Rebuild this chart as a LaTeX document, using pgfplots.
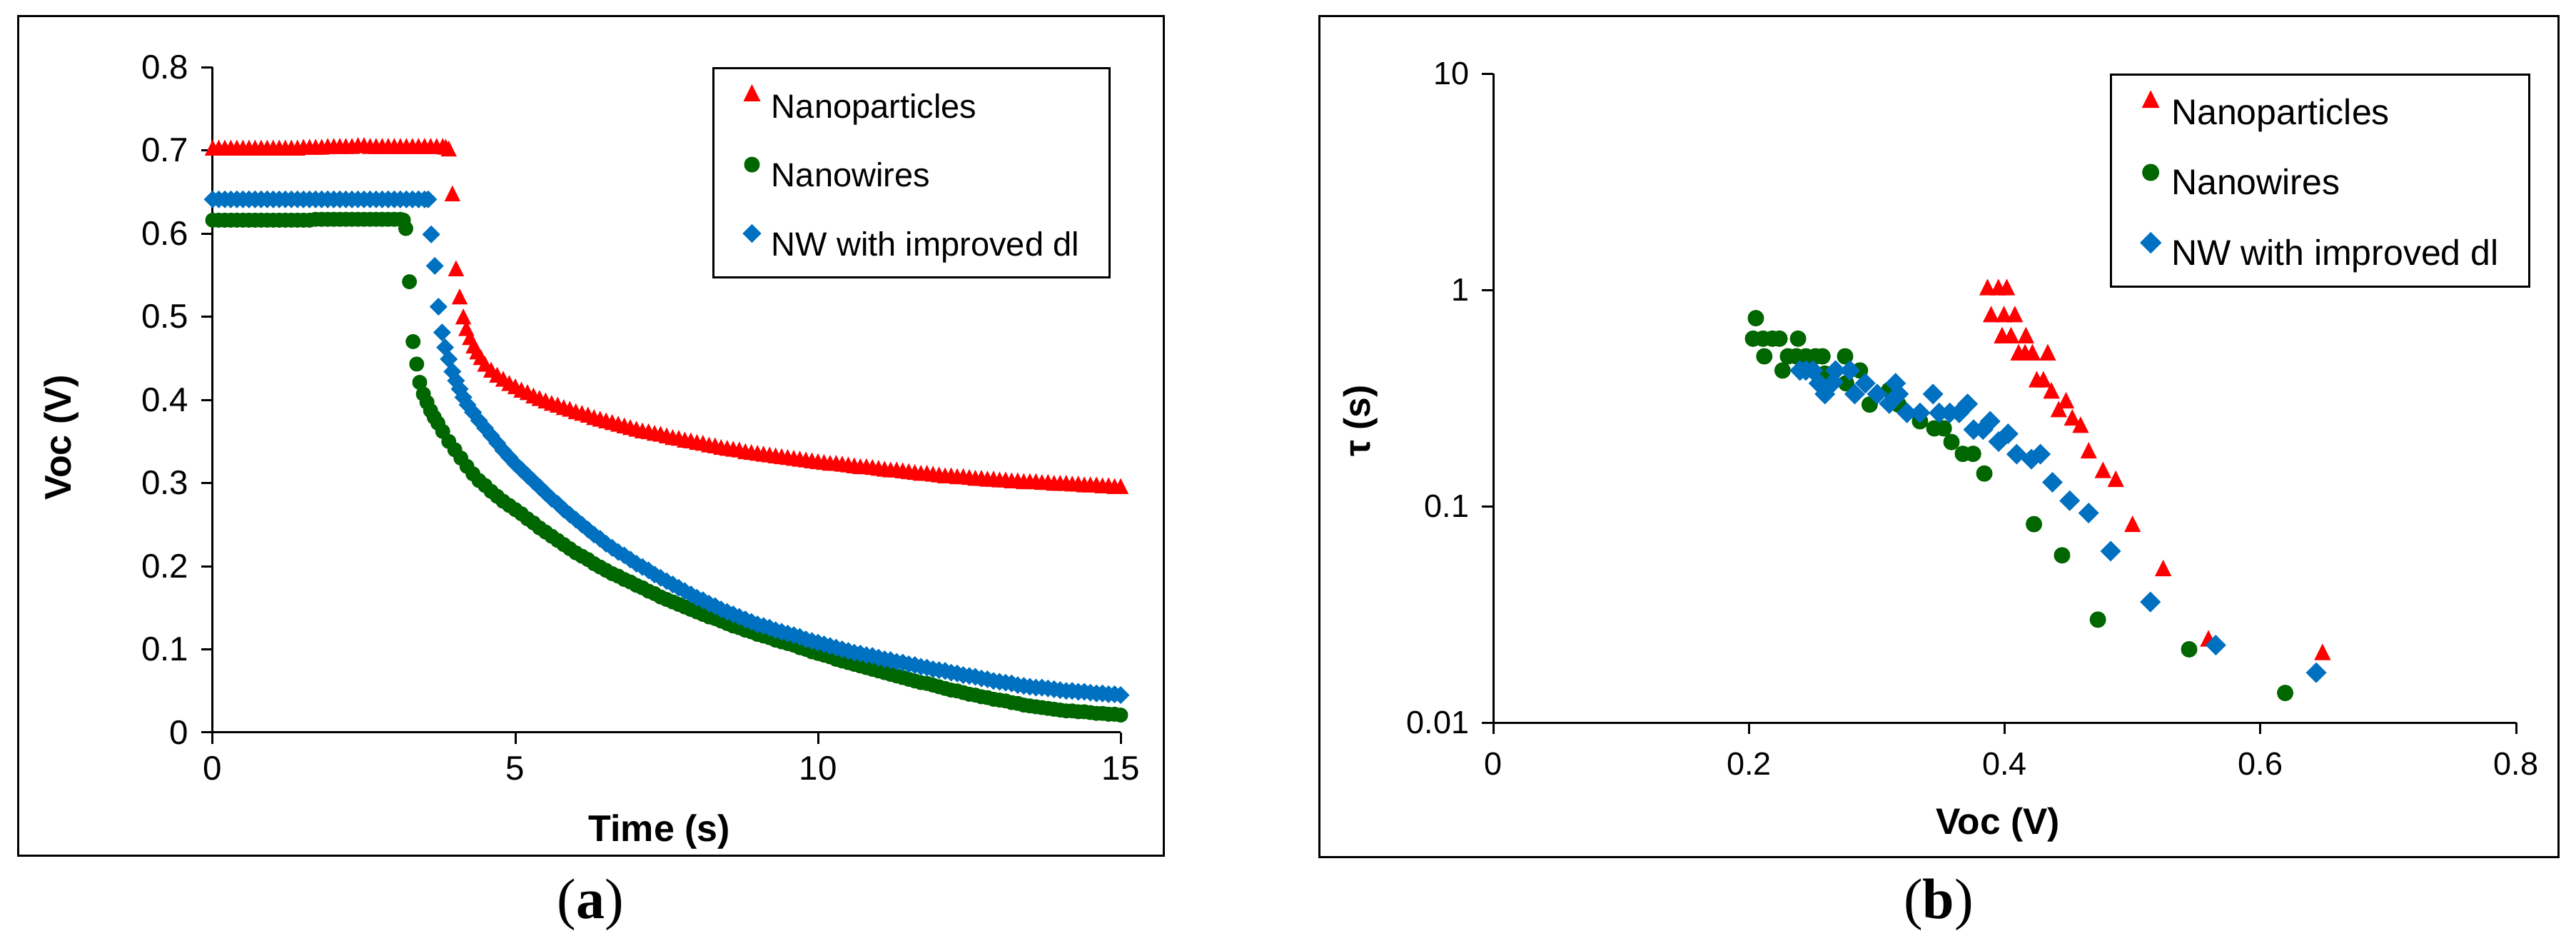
\documentclass[border=0pt]{standalone}
\usepackage{pgfplots}
\pgfplotsset{compat=1.18}
\usepackage{fontspec}
\setmainfont{Liberation Sans}
\newfontfamily\capserif{Liberation Serif}
\definecolor{npred}{RGB}{255,0,0}
\definecolor{nwgreen}{RGB}{0,102,0}
\definecolor{nwblue}{RGB}{0,112,192}
\pgfplotsset{
 panel/.style={
  scale only axis,
  axis lines*=left,
  axis line style={line width=0.6pt},
  tick style={line width=0.6pt, black},
  major tick length=3.2pt,
  tick align=outside,
  clip=false,
  /pgf/number format/assume math mode=true,
  legend cell align=left,
  legend image code/.code={
    \path[draw=none, fill=none] (-2.3pt,0pt) rectangle (2.3pt,6.8pt);
    \draw[##1] plot coordinates {(0pt,3.4pt)};
  },
  legend style={draw=black, line width=0.6pt, inner xsep=8.5pt, inner ysep=4.3pt,
    row sep=8pt, column sep=3.2pt,
    nodes={inner sep=0pt, text height=7.3pt, text depth=1.7pt}},
 },
 npstyle/.style={only marks, mark=triangle*, color=npred, mark size=#1,
   mark options={draw=none, fill=npred, yscale=1.15}},
 nwstyle/.style={only marks, mark=*, color=nwgreen, mark size=#1,
   mark options={draw=none, fill=nwgreen}},
 dlstyle/.style={only marks, mark=square*, color=nwblue, mark size=#1,
   mark options={draw=none, fill=nwblue, rotate=45}},
}
\begin{document}
\begin{tikzpicture}
\path[use as bounding box] (0,0) rectangle (721.8pt,264.8pt);
\draw[line width=0.6pt] (5pt,25.2pt) rectangle (326pt,260.2pt);
\draw[line width=0.6pt] (369.6pt,24.8pt) rectangle (716.8pt,260.2pt);
\node[font=\capserif\fontsize{16}{18}\selectfont] at (165.4pt,11.4pt) {(\textbf{a})};
\node[font=\capserif\fontsize{16}{18}\selectfont] at (543.2pt,11.4pt) {(\textbf{b})};

% ---------------- panel (a) ----------------
\begin{axis}[panel,
  at={(59.6pt,59.6pt)}, anchor=south west,
  width=254.4pt, height=186.4pt,
  xmin=0, xmax=15, ymin=0, ymax=0.8,
  xtick={0,5,10,15}, ytick={0,0.1,0.2,0.3,0.4,0.5,0.6,0.7,0.8},
  tick label style={font=\fontsize{9.5}{11}\selectfont},
  xlabel={Time (s)}, ylabel={Voc (V)},
  every axis x label/.style={at={(axis description cs:0.492,0)}, yshift=-27.8pt, anchor=center, font=\bfseries\fontsize{10.4}{12}\selectfont},
  every axis y label/.style={at={(axis description cs:0,0.443)}, xshift=-42.4pt, rotate=90, anchor=center, font=\bfseries\fontsize{10.4}{12}\selectfont},
  legend style={at={(0.5503,1)}, anchor=north west, font=\fontsize{9.4}{11}\selectfont},
]
\addplot[npstyle=2.2pt] coordinates {
(0,0.700)(0.1,0.700)(0.2,0.700)(0.3,0.700)(0.4,0.700)(0.5,0.700)(0.6,0.700)(0.7,0.700)(0.8,0.700)(0.9,0.700)
(1.0,0.700)(1.1,0.700)(1.2,0.700)(1.3,0.700)(1.4,0.700)(1.5,0.701)(1.6,0.701)(1.7,0.701)(1.8,0.701)(1.9,0.702)
(2.0,0.702)(2.1,0.702)(2.2,0.702)(2.3,0.702)(2.4,0.703)(2.5,0.703)(2.6,0.702)(2.7,0.702)(2.8,0.702)(2.9,0.702)
(3.0,0.702)(3.1,0.702)(3.2,0.702)(3.3,0.702)(3.4,0.702)(3.5,0.702)(3.6,0.702)(3.7,0.702)(3.8,0.702)(3.85,0.701)
(3.90,0.699)(3.96,0.645)(4.02,0.555)(4.08,0.521)(4.14,0.497)(4.19,0.483)(4.25,0.472)(4.31,0.462)(4.37,0.455)(4.43,0.448)
(4.5,0.440)(4.6,0.433)(4.7,0.427)(4.8,0.422)(4.9,0.417)(5.0,0.413)(5.1,0.409)(5.2,0.406)(5.3,0.402)(5.4,0.399)
(5.5,0.396)(5.6,0.393)(5.7,0.391)(5.8,0.388)(5.9,0.386)(6.0,0.383)(6.1,0.381)(6.2,0.379)(6.3,0.376)(6.4,0.374)
(6.5,0.372)(6.6,0.370)(6.7,0.368)(6.8,0.366)(6.9,0.364)(7.0,0.362)(7.1,0.360)(7.2,0.359)(7.3,0.357)(7.4,0.356)
(7.5,0.354)(7.6,0.352)(7.7,0.351)(7.8,0.349)(7.9,0.348)(8.0,0.346)(8.1,0.345)(8.2,0.343)(8.3,0.342)(8.4,0.340)
(8.5,0.339)(8.6,0.338)(8.7,0.337)(8.8,0.335)(8.9,0.334)(9.0,0.333)(9.1,0.332)(9.2,0.331)(9.3,0.330)(9.4,0.329)
(9.5,0.328)(9.6,0.327)(9.7,0.326)(9.8,0.325)(9.9,0.324)(10.0,0.323)(10.1,0.322)(10.2,0.321)(10.3,0.321)(10.4,0.320)
(10.5,0.319)(10.6,0.318)(10.7,0.317)(10.8,0.317)(10.9,0.316)(11.0,0.315)(11.1,0.314)(11.2,0.313)(11.3,0.313)(11.4,0.312)
(11.5,0.311)(11.6,0.310)(11.7,0.309)(11.8,0.309)(11.9,0.308)(12.0,0.307)(12.1,0.306)(12.2,0.306)(12.3,0.305)(12.4,0.305)
(12.5,0.304)(12.6,0.303)(12.7,0.303)(12.8,0.302)(12.9,0.302)(13.0,0.301)(13.1,0.301)(13.2,0.300)(13.3,0.300)(13.4,0.299)
(13.5,0.299)(13.6,0.299)(13.7,0.298)(13.8,0.298)(13.9,0.297)(14.0,0.297)(14.1,0.297)(14.2,0.296)(14.3,0.296)(14.4,0.295)
(14.5,0.295)(14.6,0.295)(14.7,0.294)(14.8,0.294)(14.9,0.293)(15.0,0.293)
};
\addplot[nwstyle=1.9pt] coordinates {
(0,0.616)(0.1,0.616)(0.2,0.616)(0.3,0.616)(0.4,0.616)(0.5,0.616)(0.6,0.616)(0.7,0.616)(0.8,0.616)(0.9,0.616)
(1.0,0.616)(1.1,0.616)(1.2,0.616)(1.3,0.616)(1.4,0.616)(1.5,0.616)(1.6,0.616)(1.7,0.617)(1.8,0.617)(1.9,0.617)
(2.0,0.617)(2.1,0.617)(2.2,0.617)(2.3,0.617)(2.4,0.617)(2.5,0.617)(2.6,0.617)(2.7,0.617)(2.8,0.617)(2.9,0.617)
(3.0,0.617)(3.1,0.617)(3.15,0.616)(3.19,0.606)(3.25,0.542)(3.31,0.470)(3.37,0.443)(3.42,0.421)(3.48,0.407)(3.54,0.397)
(3.60,0.387)(3.66,0.379)(3.72,0.372)(3.8,0.362)(3.9,0.350)(4.0,0.340)(4.1,0.330)(4.2,0.320)(4.3,0.311)(4.4,0.303)
(4.5,0.297)(4.6,0.290)(4.7,0.284)(4.8,0.278)(4.9,0.273)(5.0,0.268)(5.1,0.263)(5.2,0.257)(5.3,0.252)(5.4,0.246)
(5.5,0.241)(5.6,0.236)(5.7,0.231)(5.8,0.226)(5.9,0.221)(6.0,0.216)(6.1,0.212)(6.2,0.208)(6.3,0.203)(6.4,0.199)
(6.5,0.195)(6.6,0.191)(6.7,0.188)(6.8,0.184)(6.9,0.181)(7.0,0.177)(7.1,0.174)(7.2,0.170)(7.3,0.167)(7.4,0.163)
(7.5,0.160)(7.6,0.157)(7.7,0.154)(7.8,0.151)(7.9,0.148)(8.0,0.145)(8.1,0.142)(8.2,0.139)(8.3,0.137)(8.4,0.134)
(8.5,0.131)(8.6,0.128)(8.7,0.126)(8.8,0.123)(8.9,0.121)(9.0,0.118)(9.1,0.116)(9.2,0.114)(9.3,0.111)(9.4,0.109)
(9.5,0.107)(9.6,0.105)(9.7,0.102)(9.8,0.100)(9.9,0.097)(10.0,0.095)(10.1,0.093)(10.2,0.091)(10.3,0.088)(10.4,0.086)
(10.5,0.084)(10.6,0.082)(10.7,0.080)(10.8,0.078)(10.9,0.076)(11.0,0.074)(11.1,0.072)(11.2,0.070)(11.3,0.068)(11.4,0.066)
(11.5,0.064)(11.6,0.062)(11.7,0.060)(11.8,0.059)(11.9,0.057)(12.0,0.055)(12.1,0.053)(12.2,0.051)(12.3,0.050)(12.4,0.048)
(12.5,0.046)(12.6,0.045)(12.7,0.043)(12.8,0.042)(12.9,0.040)(13.0,0.039)(13.1,0.038)(13.2,0.036)(13.3,0.035)(13.4,0.033)
(13.5,0.032)(13.6,0.031)(13.7,0.030)(13.8,0.029)(13.9,0.028)(14.0,0.027)(14.1,0.026)(14.2,0.026)(14.3,0.025)(14.4,0.025)
(14.5,0.024)(14.6,0.023)(14.7,0.023)(14.8,0.022)(14.9,0.022)(15.0,0.021)
};
\addplot[dlstyle=1.56pt] coordinates {
(0,0.641)(0.1,0.641)(0.2,0.641)(0.3,0.641)(0.4,0.641)(0.5,0.641)(0.6,0.641)(0.7,0.641)(0.8,0.641)(0.9,0.641)
(1.0,0.641)(1.1,0.641)(1.2,0.641)(1.3,0.641)(1.4,0.641)(1.5,0.641)(1.6,0.641)(1.7,0.641)(1.8,0.641)(1.9,0.641)
(2.0,0.641)(2.1,0.641)(2.2,0.641)(2.3,0.641)(2.4,0.641)(2.5,0.641)(2.6,0.641)(2.7,0.641)(2.8,0.641)(2.9,0.641)
(3.0,0.641)(3.1,0.641)(3.2,0.641)(3.3,0.641)(3.4,0.641)(3.5,0.641)(3.56,0.641)(3.61,0.599)(3.67,0.561)(3.73,0.512)
(3.79,0.481)(3.84,0.463)(3.90,0.449)(3.96,0.434)(4.02,0.423)(4.08,0.413)(4.14,0.403)(4.21,0.394)(4.30,0.385)(4.4,0.375)
(4.5,0.366)(4.6,0.357)(4.7,0.348)(4.8,0.339)(4.9,0.331)(5.0,0.323)(5.1,0.316)(5.2,0.309)(5.3,0.302)(5.4,0.295)
(5.5,0.288)(5.6,0.281)(5.7,0.275)(5.8,0.268)(5.9,0.262)(6.0,0.256)(6.1,0.250)(6.2,0.244)(6.3,0.238)(6.4,0.233)
(6.5,0.227)(6.6,0.222)(6.7,0.217)(6.8,0.213)(6.9,0.208)(7.0,0.203)(7.1,0.199)(7.2,0.195)(7.3,0.190)(7.4,0.186)
(7.5,0.182)(7.6,0.178)(7.7,0.174)(7.8,0.170)(7.9,0.166)(8.0,0.162)(8.1,0.159)(8.2,0.155)(8.3,0.152)(8.4,0.148)
(8.5,0.145)(8.6,0.142)(8.7,0.139)(8.8,0.136)(8.9,0.133)(9.0,0.130)(9.1,0.128)(9.2,0.126)(9.3,0.123)(9.4,0.121)
(9.5,0.119)(9.6,0.117)(9.7,0.115)(9.8,0.112)(9.9,0.110)(10.0,0.108)(10.1,0.106)(10.2,0.104)(10.3,0.102)(10.4,0.100)
(10.5,0.098)(10.6,0.096)(10.7,0.095)(10.8,0.093)(10.9,0.092)(11.0,0.090)(11.1,0.088)(11.2,0.087)(11.3,0.085)(11.4,0.084)
(11.5,0.082)(11.6,0.081)(11.7,0.079)(11.8,0.078)(11.9,0.076)(12.0,0.075)(12.1,0.074)(12.2,0.072)(12.3,0.071)(12.4,0.069)
(12.5,0.068)(12.6,0.067)(12.7,0.065)(12.8,0.064)(12.9,0.062)(13.0,0.061)(13.1,0.060)(13.2,0.059)(13.3,0.057)(13.4,0.056)
(13.5,0.055)(13.6,0.054)(13.7,0.054)(13.8,0.053)(13.9,0.052)(14.0,0.051)(14.1,0.050)(14.2,0.050)(14.3,0.049)(14.4,0.049)
(14.5,0.048)(14.6,0.047)(14.7,0.047)(14.8,0.046)(14.9,0.046)(15.0,0.045)
};
\legend{Nanoparticles, Nanowires, NW with improved dl}
\end{axis}

% ---------------- panel (b) ----------------
\begin{axis}[panel,
  at={(418.4pt,62.4pt)}, anchor=south west,
  width=286.6pt, height=181.8pt,
  xmin=0, xmax=0.8, ymin=0.01, ymax=10, ymode=log,
  xtick={0,0.2,0.4,0.6,0.8},
  ytick={0.01,0.1,1,10}, yticklabels={0.01,0.1,1,10},
  yminorticks=false,
  tick label style={font=\fontsize{9}{11}\selectfont},
  xticklabel style={yshift=-1.6pt},
  xlabel={Voc (V)}, ylabel={τ (s)},
  every axis x label/.style={at={(axis description cs:0.4933,0)}, yshift=-28.6pt, anchor=center, font=\bfseries\fontsize{10.3}{12}\selectfont},
  every axis y label/.style={at={(axis description cs:0,0.465)}, xshift=-37.2pt, rotate=90, anchor=center, font=\bfseries\fontsize{10.3}{12}\selectfont},
  legend style={at={(0.603,1.0)}, anchor=north west, font=\fontsize{10}{12}\selectfont, row sep=8.4pt},
]
\addplot[npstyle=2.3pt] coordinates {
(0.3866,1.0)(0.3951,1.0)(0.4017,1.0)
(0.3894,0.75)(0.3994,0.75)(0.4080,0.75)
(0.3980,0.60)(0.4050,0.60)(0.4166,0.60)
(0.4109,0.50)(0.4160,0.50)(0.4217,0.50)(0.4337,0.50)
(0.4251,0.375)(0.4303,0.375)
(0.4366,0.333)(0.4480,0.30)(0.4423,0.273)(0.4529,0.25)(0.4594,0.231)
(0.4657,0.176)(0.4769,0.143)(0.4869,0.130)(0.5000,0.0805)(0.5240,0.0503)
(0.5594,0.0238)(0.6486,0.0206)
};
\addplot[nwstyle=2.1pt] coordinates {
(0.2054,0.74)
(0.2032,0.595)(0.2110,0.595)(0.2183,0.595)(0.2239,0.595)(0.2384,0.595)
(0.2120,0.493)(0.2305,0.493)(0.2371,0.493)(0.2445,0.493)(0.2520,0.493)(0.2575,0.493)(0.2752,0.493)
(0.2263,0.424)(0.2868,0.424)(0.2594,0.41)(0.2760,0.37)(0.3097,0.344)
(0.2944,0.295)(0.3170,0.295)
(0.3338,0.247)(0.3450,0.229)(0.3524,0.229)(0.3584,0.198)
(0.3673,0.1746)(0.3753,0.1746)(0.3841,0.1416)
(0.4229,0.0826)(0.4449,0.0593)(0.4729,0.0299)(0.5443,0.0218)(0.6194,0.0137)
};
\addplot[dlstyle=1.84pt] coordinates {
(0.2399,0.424)(0.2445,0.424)(0.2501,0.424)(0.2678,0.424)(0.2790,0.424)
(0.2547,0.37)(0.2594,0.330)(0.2660,0.375)
(0.2827,0.330)(0.2910,0.370)(0.3003,0.330)(0.3097,0.298)(0.3147,0.370)(0.3170,0.330)
(0.3236,0.270)(0.3338,0.270)(0.3440,0.330)(0.3487,0.270)(0.3571,0.270)(0.3645,0.270)
(0.3710,0.297)(0.3757,0.226)(0.3831,0.226)(0.3887,0.247)(0.3953,0.199)(0.4027,0.216)
(0.4094,0.174)(0.4209,0.165)(0.4280,0.174)
(0.4374,0.129)(0.4509,0.106)(0.4657,0.093)(0.4829,0.062)(0.5140,0.0361)(0.5651,0.0228)(0.6437,0.017)
};
\legend{Nanoparticles, Nanowires, NW with improved dl}
\end{axis}
\end{tikzpicture}
\end{document}
